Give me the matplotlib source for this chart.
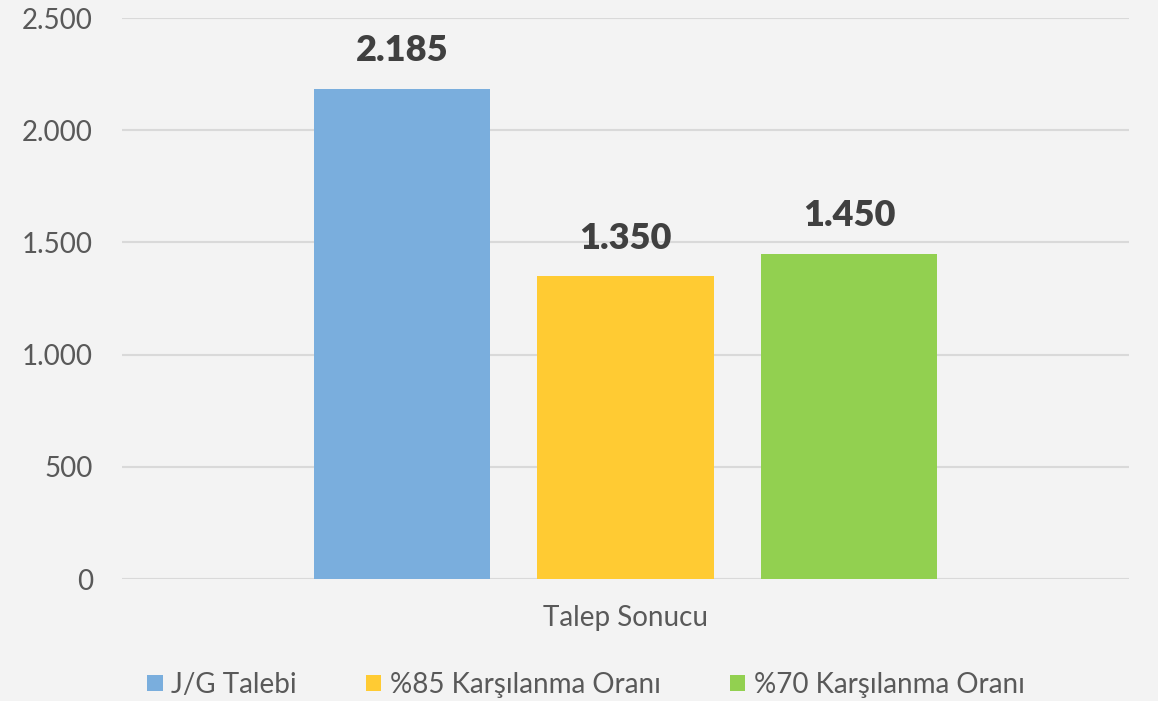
import matplotlib
matplotlib.use("Agg")
import matplotlib.pyplot as plt
from matplotlib.ticker import FuncFormatter

category = "Talep Sonucu"
series_names = ["J/G Talebi", "%85 Karşılanma Oranı", "%70 Karşılanma Oranı"]
values = [2185, 1350, 1450]
colors = ["#7aaedd", "#ffcb33", "#92d050"]

plt.rcParams["font.family"] = ["Lato", "DejaVu Sans"]

fig = plt.figure(figsize=(11.58, 7.01), dpi=100)
fig.patch.set_facecolor("#f3f3f3")
ax = fig.add_axes([0.1054, 0.174, 0.8696, 0.8003])
ax.set_facecolor("#f3f3f3")

width = 0.175
offsets = [-0.222, 0.0, 0.222]
for name, val, col, off in zip(series_names, values, colors, offsets):
    ax.bar(off, val, width=width, color=col, label=name, zorder=3)
    ax.text(off, val + 95, f"{val:,}".replace(",", "."), ha="center", va="bottom",
            fontsize=26, fontweight="heavy", color="#404040")

ax.set_xlim(-0.5, 0.5)
ax.set_ylim(0, 2500)
ax.set_yticks(range(0, 2501, 500))
ax.yaxis.set_major_formatter(FuncFormatter(lambda v, p: f"{int(v):,}".replace(",", ".")))
ax.set_xticks([0])
ax.set_xticklabels([category])
ax.grid(axis="y", color="#d9d9d9", linewidth=1.5, zorder=0)
for s in ax.spines.values():
    s.set_visible(False)
ax.tick_params(axis="y", length=0, labelsize=20, labelcolor="#595959", pad=21)
ax.tick_params(axis="x", length=0, labelsize=20, labelcolor="#595959", pad=19)

fig.legend(loc="center", bbox_to_anchor=(0.506, 0.023), ncol=3, frameon=False,
           fontsize=20, labelcolor="#595959", handlelength=0.55, handleheight=0.55,
           handletextpad=0.3, columnspacing=2.5)

fig.savefig("out.png", dpi=100, facecolor=fig.get_facecolor())
